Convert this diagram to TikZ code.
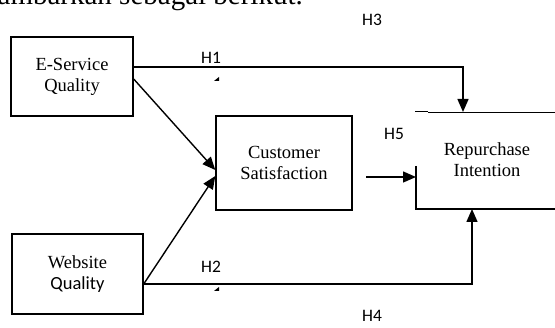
\documentclass[tikz,border=0pt]{standalone}
\usepackage{fontspec}
\setmainfont{Liberation Serif}
\newfontfamily\hfont{Carlito}
\usetikzlibrary{arrows.meta}

\begin{document}
\begin{tikzpicture}[x=1pt,y=-1pt]
			\tikzstyle{var} = [
				rectangle, draw = black, line width = 1.4pt,
				inner sep = 0pt, align = center,
				font = \fontsize{18.5}{21}\selectfont
			]
			\tikzstyle{link}=[-{Triangle[length=13pt,width=11pt]},draw=black,line width=1.4pt]
			\tikzstyle{hyp}=[font=\hfont\fontsize{17.5}{20}\selectfont,inner sep=0pt]
			\useasboundingbox (0,0) rectangle (555,328);
			\node[anchor=base east,inner sep=0pt,font=\fontsize{29}{30}\selectfont] (intro) at (303,5) {digambarkan sebagai berikut.};
			\node[var, minimum width=122pt, minimum height=79pt] (esq) at (72,76.5) {E-Service\\Quality};
			\node[var, minimum width=131pt, minimum height=80pt] (wq) at (77.5,274) {Website\\{\hfont Quality}};
			\node[var, minimum width=136pt, minimum height=94pt] (cs) at (284,163) {Customer\\Satisfaction};
			\node[var, draw=none] (ri) at (487,160) {Repurchase\\Intention};
			% open box of repurchase intention
			\coordinate (ritop) at (463,112);
			\coordinate (ribot) at (472,209);
			\coordinate (rileft) at (416,177);
			\coordinate (h5s) at (366,177);
			\draw[line width=1.4pt] (415,111.5) -- (428,111.5) (428,112.5) -- (555,112.5);
			\draw[line width=1.4pt] (416,166) -- (416,209) -- (555,209);
			\draw ([yshift=9.5pt]esq.east) -| (ritop) [link];
			\draw ([yshift=-2.5pt]esq.east) to ([yshift=-7pt]cs.west) [link];
			\draw ([yshift=-10pt]wq.east) to ([yshift=-13pt]cs.west) [link];
			\draw ([yshift=-10pt]wq.east) -| (ribot) [link];
			\draw (h5s) to (rileft) [link];
			\node[hyp] (h1) at (211,58) {H1};
			\node[hyp] (h2) at (211,267) {H2};
			\node[hyp] (h3) at (372,20) {H3};
			\node[hyp] (h4) at (372,316) {H4};
			\node[hyp] (h5) at (394,134) {H5};
			\fill (214,81) -- (219,77) -- (219,81) -- cycle;
			\fill (214,291) -- (219,287) -- (219,291) -- cycle;
		\end{tikzpicture}
\end{document}
